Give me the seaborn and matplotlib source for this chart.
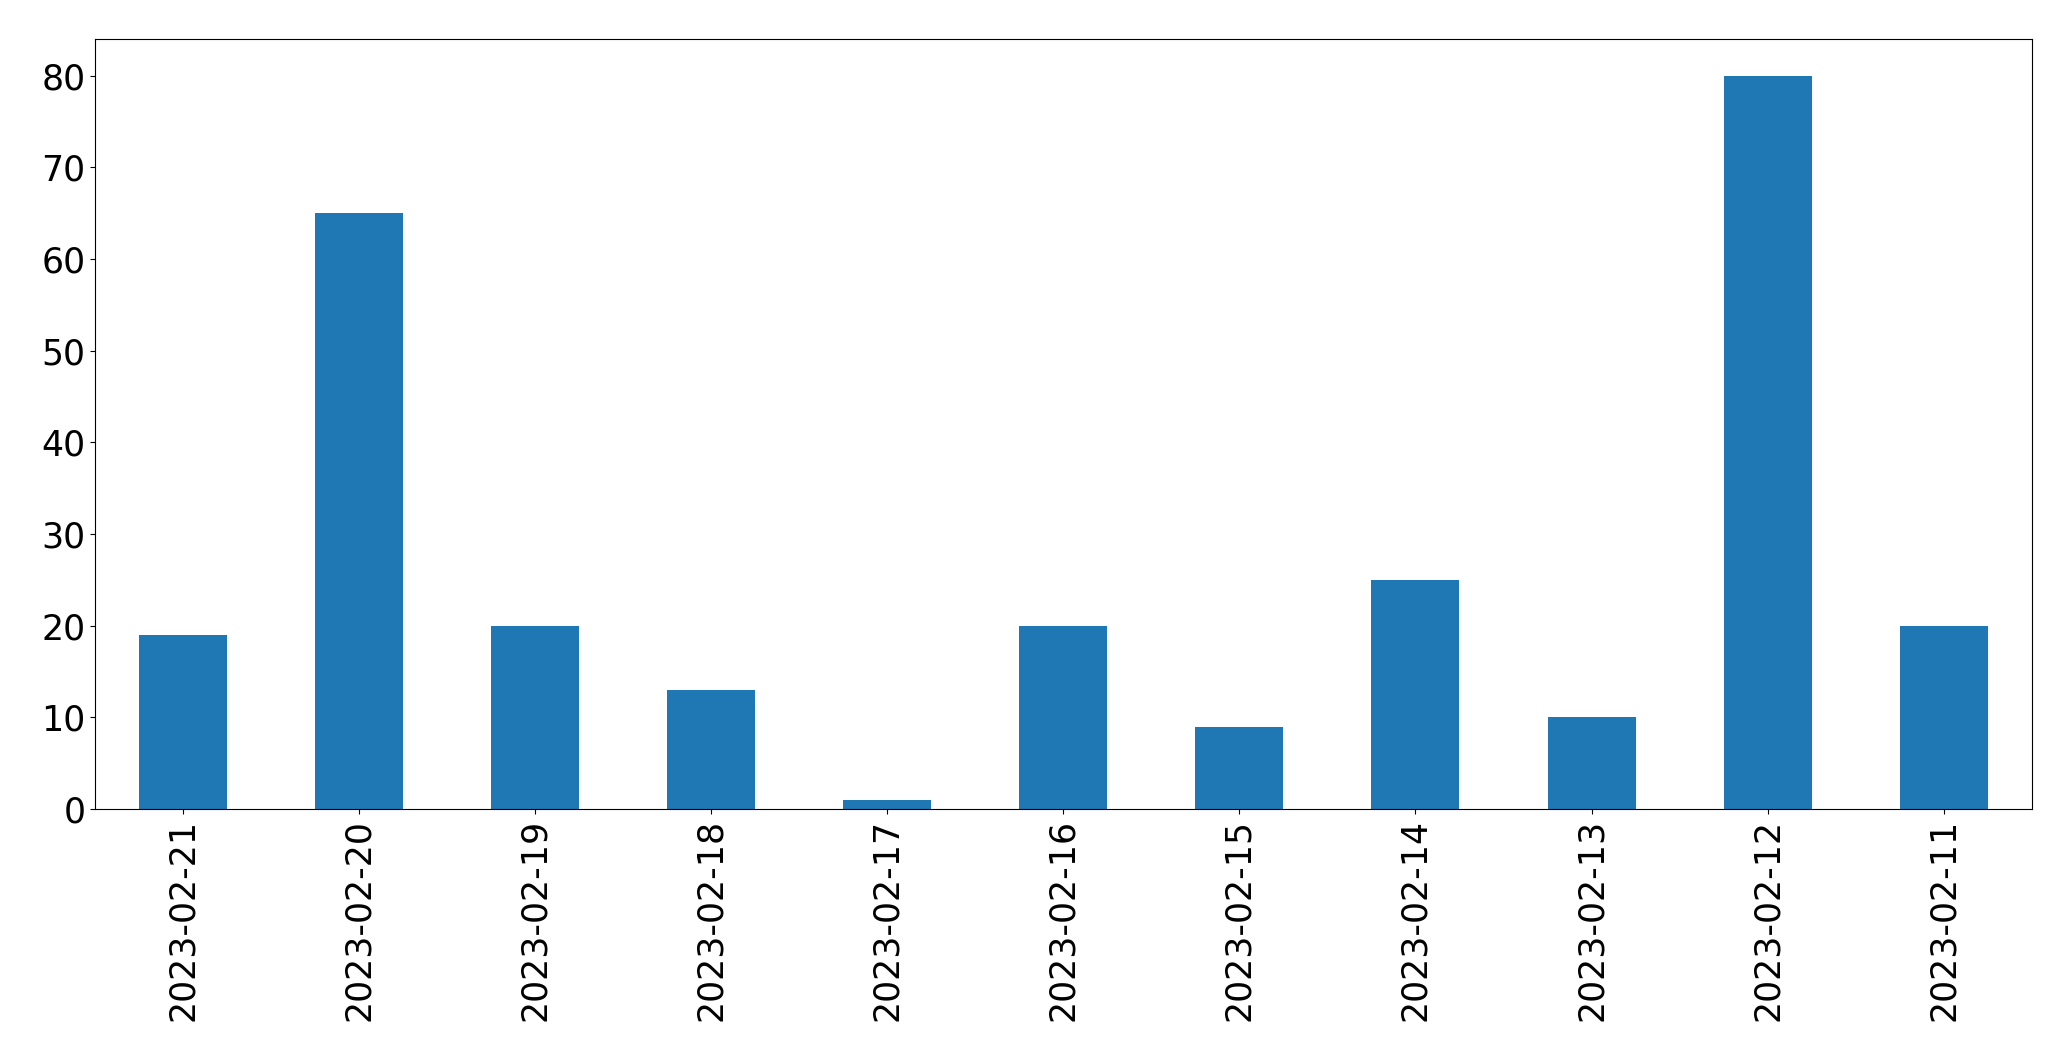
import matplotlib
matplotlib.use("Agg")
import matplotlib.pyplot as plt
import seaborn as sns
import pandas as pd

dates = ["2023-02-21", "2023-02-20", "2023-02-19", "2023-02-18", "2023-02-17",
         "2023-02-16", "2023-02-15", "2023-02-14", "2023-02-13", "2023-02-12",
         "2023-02-11"]
counts = [19, 65, 20, 13, 1, 20, 9, 25, 10, 80, 20]

df = pd.DataFrame({"date": dates, "count": counts})

fig, ax = plt.subplots(figsize=(20.71, 10.61), dpi=100)
sns.barplot(data=df, x="date", y="count", order=dates, color="#1f77b4",
            saturation=1, width=0.5, linewidth=0, ax=ax)

ax.set_xlim(-0.5, len(dates) - 0.5)
ax.set_ylim(0, max(counts) * 1.05)
ax.set_xlabel("")
ax.set_ylabel("")
ax.tick_params(axis="both", labelsize=25)
ax.tick_params(axis="x", labelrotation=90)

plt.subplots_adjust(left=0.0459, right=0.981, top=0.9632, bottom=0.2375)
plt.savefig("out.png", dpi=100)
